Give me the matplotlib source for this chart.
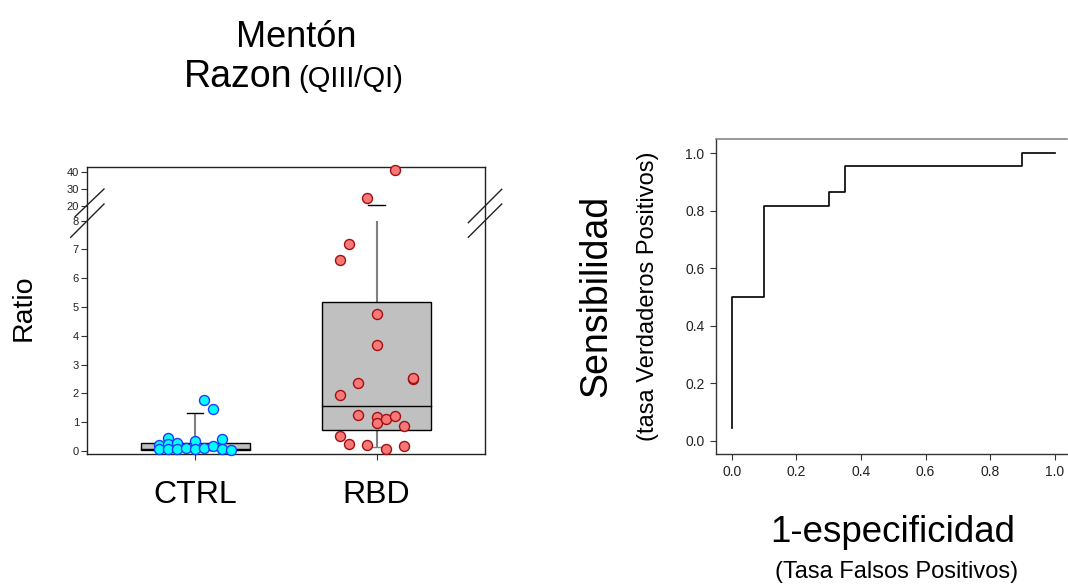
import numpy as np
import matplotlib
matplotlib.use("Agg")
import matplotlib.pyplot as plt
from matplotlib.lines import Line2D
from matplotlib.patches import Rectangle
import matplotlib.transforms as mtransforms

plt.rcParams['font.family'] = ['Liberation Sans', 'DejaVu Sans']

# ---------------- data ----------------
groups = ["CTRL", "RBD"]

ctrl_values = [1.79, 1.46, 0.46, 0.21, 0.24, 0.27, 0.36, 0.41, 0.07, 0.07,
               0.07, 0.12, 0.07, 0.12, 0.17, 0.07, 0.03]
ctrl_cols = [1, 2, -3, -4, -3, -2, 0, 3, -4, -3, -2, -1, 0, 1, 2, 3, 4]

rbd_values = [41.0, 24.7, 7.2, 6.62, 4.76, 3.67, 2.37, 2.50, 2.53, 1.94, 1.24,
              1.18, 0.96, 1.12, 1.22, 0.88, 0.51, 0.23, 0.20, 0.06, 0.19]
rbd_cols = [2, -1, -3, -4, 0, 0, -2, 4, 4, -4, -2, 0, 0, 1, 2, 3, -4, -3, -1, 1, 3]

# box stats: q1, median, q3, whisker low, whisker high
ctrl_box = dict(q1=0.03, med=0.08, q3=0.28, lo=0.02, hi=1.31)
rbd_box = dict(q1=0.75, med=1.55, q3=5.19, lo=0.15, hi=20.4)

yticks_left = [0, 1, 2, 3, 4, 5, 6, 7, 8, 20, 30, 40]

roc_fpr = [0.0, 0.0, 0.1, 0.1, 0.3, 0.3, 0.35, 0.35, 0.9, 0.9, 1.0]
roc_tpr = [0.045, 0.5, 0.5, 0.818, 0.818, 0.864, 0.864, 0.955, 0.955, 1.0, 1.0]
roc_ticks = [0.0, 0.2, 0.4, 0.6, 0.8, 1.0]

# ---------------- broken scale ----------------
BRK_LO, BRK_HI = 8.0, 20.0
S_LOW, GAP, S_HIGH = 28.8, 14.7, 1.7


def fwd(y):
    y = np.asarray(y, dtype=float)
    p_lo = BRK_LO * S_LOW
    p_hi = p_lo + GAP
    return np.where(y <= BRK_LO, y * S_LOW,
                    np.where(y < BRK_HI, p_lo + (y - BRK_LO) * GAP / (BRK_HI - BRK_LO),
                             p_hi + (y - BRK_HI) * S_HIGH))


def inv(p):
    p = np.asarray(p, dtype=float)
    p_lo = BRK_LO * S_LOW
    p_hi = p_lo + GAP
    return np.where(p <= p_lo, p / S_LOW,
                    np.where(p < p_hi, BRK_LO + (p - p_lo) * (BRK_HI - BRK_LO) / GAP,
                             BRK_HI + (p - p_hi) / S_HIGH))


W, H = 1068, 585
fig = plt.figure(figsize=(W / 100, H / 100), dpi=100)


def fx(px):
    return px / W


def fy(py):
    return (H - py) / H


# ---------------- left chart ----------------
ax1 = fig.add_axes([fx(87.3), fy(454), fx(485.3) - fx(87.3), fy(167.3) - fy(454)])
ax1.set_yscale('function', functions=(fwd, inv))
ax1.set_ylim(-0.1, 42.7)
ax1.set_xlim(0.405, 2.6)
ax1.set_yticks(yticks_left)
ax1.set_yticklabels([str(t) for t in yticks_left], fontsize=8)
ax1.set_xticks([1, 2])
ax1.set_xticklabels([])
ax1.tick_params(axis='both', direction='out', length=4, width=0.8, colors='#333333',
                labelcolor='#222222', pad=2)
for s in ax1.spines.values():
    s.set_linewidth(1.0)
    s.set_color('#222222')

box_w = 0.6
cap_w = 0.09
step = 0.05
for i, st in enumerate([ctrl_box, rbd_box]):
    x = i + 1
    # whiskers (gray)
    top_draw = min(st['hi'], BRK_LO)
    ax1.plot([x, x], [st['q3'], top_draw], color='#808080', lw=1.5, zorder=1, solid_capstyle='butt')
    ax1.plot([x, x], [st['lo'], st['q1']], color='#808080', lw=1.5, zorder=1, solid_capstyle='butt')
    # caps
    ax1.plot([x - cap_w / 2, x + cap_w / 2], [st['hi'], st['hi']], color='black', lw=1.0, zorder=1)
    ax1.plot([x - cap_w / 2, x + cap_w / 2], [st['lo'], st['lo']], color='#808080', lw=1.0, zorder=1)
    # box
    ax1.add_patch(Rectangle((x - box_w / 2, st['q1']), box_w, st['q3'] - st['q1'],
                            facecolor='#c0c0c0', edgecolor='black', lw=1.0, zorder=2))
    ax1.plot([x - box_w / 2, x + box_w / 2], [st['med'], st['med']], color='black', lw=1.0, zorder=2)

ax1.scatter([1 + c * step for c in ctrl_cols], ctrl_values, s=52, facecolor='#00ffff',
            edgecolor='#1a3cff', linewidth=1.0, zorder=3, clip_on=False)
ax1.scatter([2 + c * step for c in rbd_cols], rbd_values, s=52, facecolor='#f87878',
            edgecolor='#a01010', linewidth=1.0, zorder=3, clip_on=False)

# break marks (figure-pixel decorations)
for (x0, y0, x1, y1) in [(75, 216.7, 104, 189), (70.7, 237.3, 104, 204),
                         (468.3, 222.7, 501.7, 189.3), (468.3, 237.3, 501.7, 204)]:
    fig.add_artist(Line2D([fx(x0), fx(x1)], [fy(y0), fy(y1)], color='#222222', lw=1.0))

# group labels
trans = mtransforms.blended_transform_factory(ax1.transData, fig.transFigure)
for i, g in enumerate(groups):
    ax1.text(i + 1, fy(503), g, transform=trans, ha='center', va='baseline', fontsize=23)

fig.text(fx(24), fy(308), "Ratio", rotation=90, ha='center', va='center', fontsize=20.5)

# title
fig.text(fx(296), fy(47), "Mentón", ha='center', va='baseline', fontsize=26)
fig.text(fx(292), fy(87), "Razon", ha='right', va='baseline', fontsize=27)
fig.text(fx(298), fy(87), "(QIII/QI)", ha='left', va='baseline', fontsize=21)

# ---------------- ROC chart ----------------
ax2 = fig.add_axes([fx(715.7), fy(454.3), fx(1067) - fx(715.7), fy(139) - fy(454.3)])
ax2.plot(roc_fpr, roc_tpr, color='black', lw=1.2)
ax2.set_xlim(-0.05, 1.038)
ax2.set_ylim(-0.047, 1.05)
ax2.set_xticks(roc_ticks)
ax2.set_yticks(roc_ticks)
ax2.set_xticklabels([f"{t:.1f}" for t in roc_ticks], fontsize=10)
ax2.set_yticklabels([f"{t:.1f}" for t in roc_ticks], fontsize=10)
ax2.tick_params(axis='both', direction='out', length=4, width=0.8, colors='#333333',
                labelcolor='#222222', pad=4)
ax2.spines['right'].set_visible(False)
for k in ['left', 'bottom']:
    ax2.spines[k].set_color('#333333')
    ax2.spines[k].set_linewidth(1.0)
ax2.spines['top'].set_color('#888888')
ax2.spines['top'].set_linewidth(1.2)

fig.text(fx(596), fy(296), "Sensibilidad", rotation=90, ha='center', va='center', fontsize=27)
fig.text(fx(648), fy(296), "(tasa Verdaderos Positivos)", rotation=90, ha='center', va='center', fontsize=17)
fig.text(fx(893), fy(542), "1-especificidad", ha='center', va='baseline', fontsize=26.5)
fig.text(fx(897), fy(578), "(Tasa Falsos Positivos)", ha='center', va='baseline', fontsize=17)

fig.savefig("out.png", dpi=100)
